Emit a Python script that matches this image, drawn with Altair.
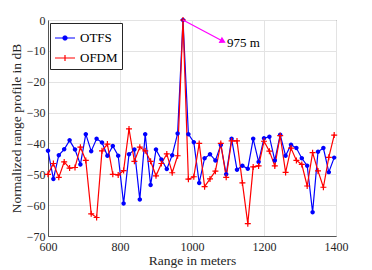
import altair as alt
import pandas as pd

ranges = [600 + 15 * i for i in range(54)]

otfs = [-42.4, -51.5, -43.8, -41.9, -39.0, -42.0, -46.8, -37.0, -42.5, -38.5,
        -39.7, -44.0, -40.8, -44.0, -59.5, -43.5, -42.0, -58.2, -37.0, -53.5,
        -42.0, -45.2, -48.3, -43.8, -36.8, 0.0, -37.0, -39.6, -52.8, -44.8,
        -43.5, -45.5, -40.5, -50.0, -38.5, -48.5, -47.2, -48.2, -38.5, -46.0,
        -38.3, -37.8, -45.5, -37.2, -44.0, -40.4, -41.5, -44.8, -47.2, -62.3,
        -42.7, -41.5, -49.3, -44.6]

ofdm = [-50.0, -46.5, -51.0, -46.0, -48.0, -47.8, -41.2, -45.5, -62.8, -64.0,
        -42.4, -40.2, -50.0, -50.2, -48.8, -35.3, -45.8, -41.2, -42.4, -45.8,
        -50.5, -46.5, -43.4, -49.5, -44.0, 0.0, -51.6, -50.8, -40.0, -54.0,
        -51.5, -49.0, -40.0, -51.0, -39.2, -39.2, -52.8, -66.0, -47.6, -47.3,
        -39.3, -42.5, -47.3, -37.5, -49.4, -41.5, -45.5, -46.8, -53.8, -43.0,
        -48.9, -54.2, -44.5, -37.3]

series_names = ["OTFS", "OFDM"]
series_colors = ["#0000ff", "#ff0000"]

arrow_x = [975]
arrow_y = [0]
arrow_x2 = [1086]
arrow_y2 = [-6.9]
label_x = [1097]
label_y = [-7.4]
label_text = ["975 m"]

x_ticks = [600, 800, 1000, 1200, 1400]
y_ticks = [-70, -60, -50, -40, -30, -20, -10, 0]

FONT = "Liberation Serif"

df = pd.DataFrame({
    "range": ranges * 2,
    "value": otfs + ofdm,
    "series": ["OTFS"] * len(ranges) + ["OFDM"] * len(ranges),
})
ann = pd.DataFrame({"x": arrow_x, "y": arrow_y, "x2": arrow_x2, "y2": arrow_y2})
lab = pd.DataFrame({"x": label_x, "y": label_y, "t": label_text})

xs = alt.Scale(domain=[600, 1400], nice=False)
ys = alt.Scale(domain=[-70, 0], nice=False)

xax = alt.Axis(values=x_ticks, title="Range in meters", grid=True, ticks=False,
               labelPadding=5, titlePadding=1, format="d",
               labelOverlap=False, labelFont=FONT, titleFont=FONT,
               labelFontSize=12, titleFontSize=13.5)
yax = alt.Axis(values=y_ticks, title="Normalized range profile in dB", grid=True,
               ticks=False, labelPadding=3, titlePadding=3, labelOverlap=False,
               format="d", labelFont=FONT, titleFont=FONT,
               labelFontSize=12, titleFontSize=13.5)


def X(field):
    return alt.X(field, type="quantitative", scale=xs, axis=xax)


def Y(field):
    return alt.Y(field, type="quantitative", scale=ys, axis=yax)


base = alt.Chart(df)

circle_path = "M-1,0A1,1 0 1,0 1,0A1,1 0 1,0 -1,0Z"
plus_path = "M-1,0L1,0M0,-1L0,1"


def octagon(r):
    a = round(r * 0.414, 3)
    return (f"M{-r},{-a}L{-a},{-r}L{a},{-r}L{r},{-a}"
            f"L{r},{a}L{a},{r}L{-a},{r}L{-r},{a}Z")


# legend glyphs: line segment plus marker (stroked only, no arcs)
leg_otfs = "M-1,0L1,0" + "".join(octagon(r) for r in (0.05, 0.12, 0.19))
leg_ofdm = "M-1,0L1,0M0,-0.3L0,0.3"

leg = alt.Legend(title=None, orient="none", legendX=2, legendY=3,
                 symbolSize=400, symbolStrokeWidth=1.2,
                 labelFont=FONT, labelFontSize=13, labelColor="#000",
                 strokeColor="#262626", fillColor="white", padding=4)

lines = base.mark_line(strokeWidth=1.2).encode(
    x=X("range"), y=Y("value"),
    color=alt.Color("series:N", scale=alt.Scale(domain=series_names, range=series_colors), legend=None),
    detail="series:N",
)

pts_otfs = base.transform_filter(alt.datum.series == "OTFS").mark_point(
    shape=circle_path, filled=True, size=20, color="#0000ff", opacity=1
).encode(x=X("range"), y=Y("value"))

pts_ofdm = base.transform_filter(alt.datum.series == "OFDM").mark_point(
    shape=plus_path, filled=False, size=36, color="#ff0000", strokeWidth=1.2, opacity=1
).encode(x=X("range"), y=Y("value"))

legend_layer = base.mark_point(filled=False, strokeWidth=1.2, size=4, opacity=1).encode(
    x=X("range"), y=Y("value"),
    color=alt.Color("series:N", scale=alt.Scale(domain=series_names, range=series_colors), legend=leg),
    shape=alt.Shape("series:N", scale=alt.Scale(domain=series_names, range=[leg_otfs, leg_ofdm]), legend=leg),
)

arrow_line = alt.Chart(ann).mark_rule(color="#ff00ff", strokeWidth=1.2).encode(
    x=X("x"), y=Y("y"), x2="x2:Q", y2="y2:Q")
arrow_head = alt.Chart(ann).mark_point(shape="triangle-right", filled=True, size=50,
                                       color="#ff00ff", angle=28, opacity=1).encode(
    x=X("x2"), y=Y("y2"))
text = alt.Chart(lab).mark_text(align="left", baseline="middle", font=FONT,
                                fontSize=13, color="#000").encode(
    x=X("x"), y=Y("y"), text="t:N")

chart = alt.layer(legend_layer, lines, pts_otfs, pts_ofdm, arrow_line, arrow_head, text).properties(
    width=288, height=216,
    padding={"left": 40, "top": 12, "right": 24, "bottom": 34},
    autosize=alt.AutoSizeParams(type="none"),
).configure(font=FONT).configure_view(stroke="#555", strokeWidth=1).configure_axis(
    labelFont=FONT, titleFont=FONT, labelFontSize=12, titleFontSize=13.5,
    labelColor="#262626", titleColor="#262626", titleFontWeight="normal",
    gridColor="#e3e3e3", domainColor="#555", labelFlush=False,
).configure_legend(labelFont=FONT)

chart.save("out.html", embed_options={"renderer": "svg", "actions": False})
